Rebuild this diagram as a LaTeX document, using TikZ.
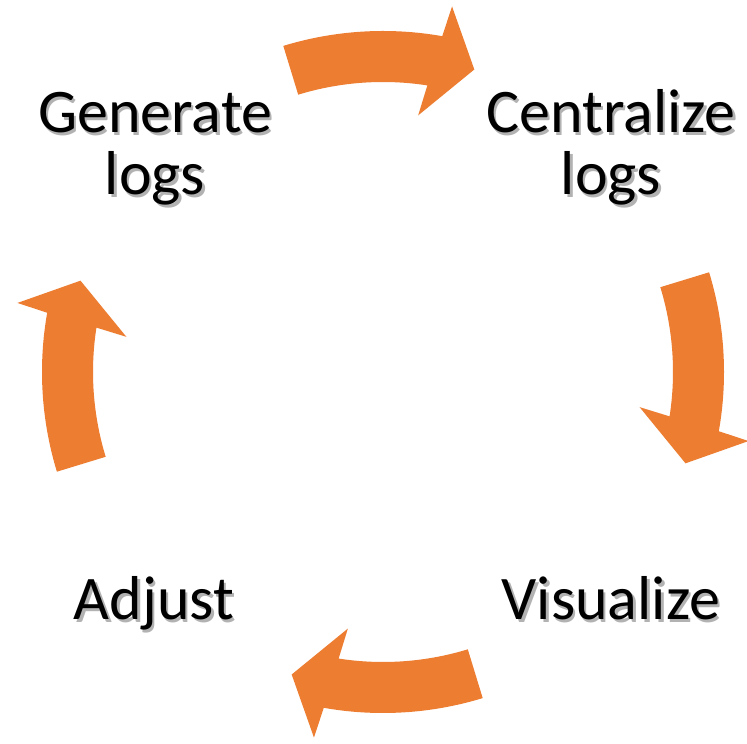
\documentclass[tikz,border=0pt]{standalone}
\usepackage{fontspec}
\setmainfont{Carlito}
\usetikzlibrary{calc}
\definecolor{cycleorange}{HTML}{ED7D31}
% text with a soft grey drop shadow
\newcommand\shadowed[1]{\leavevmode
  \rlap{\kern2.4pt\raisebox{-2.4pt}{\color{black!30}#1}}%
  #1}
\tikzset{
  arrowfill/.style={fill=cycleorange, draw=none},
  steplabel/.style={font=\fontsize{62pt}{62pt}\selectfont, align=center,
    anchor=base, inner sep=0pt, text=black},
}
\begin{document}
\begin{tikzpicture}
\useasboundingbox (0pt,0pt) rectangle (747pt,744pt);
\fill[white] (0pt,0pt) rectangle (747pt,744pt);

% four curved arrows running clockwise round the cycle
\begin{scope}[shift={(383pt,372pt)}]
\foreach \a in {90,0,-90,-180}{
  \fill[arrowfill]
    ({\a+17}:341pt) arc[start angle={\a+17}, end angle={\a-10}, radius=341pt]
    -- ({\a-10.7}:372pt) -- ({\a-16.8}:316pt) -- ({\a-7.8}:259pt)
    -- ({\a-8.8}:290pt) arc[start angle={\a-8.8}, end angle={\a+17}, radius=290pt]
    -- cycle;
}
\end{scope}

% step labels (base anchor sits on the last line)
\node[steplabel] (generate) at (155pt,549pt) {\shadowed{Generate}\\\shadowed{logs}};
\node[steplabel] (centralize) at (611pt,549pt) {\shadowed{Centralize}\\\shadowed{logs}};
\node[steplabel] (visualize) at (611pt,124pt) {\shadowed{Visualize}};
\node[steplabel] (adjust) at (154pt,124pt) {\shadowed{Adjust}};
\end{tikzpicture}
\end{document}
